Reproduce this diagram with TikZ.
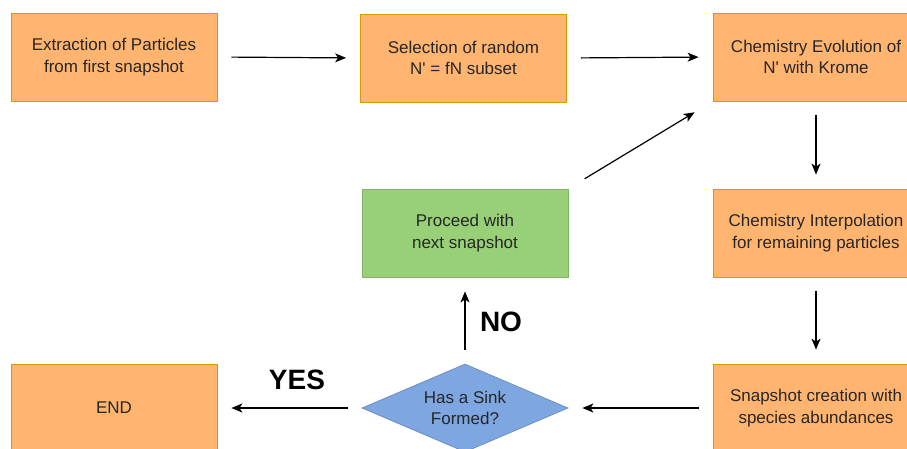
\documentclass[tikz,border=0pt]{standalone}
\usepackage{fontspec}
\setmainfont{Liberation Sans}
\usetikzlibrary{shapes.geometric,arrows.meta}
\definecolor{orfill}{HTML}{FFB570}
\definecolor{ordraw}{HTML}{D79B00}
\definecolor{grfill}{HTML}{97D077}
\definecolor{grdraw}{HTML}{82B366}
\definecolor{blfill}{HTML}{7EA6E0}
\definecolor{bldraw}{HTML}{6C8EBF}
\definecolor{txt}{HTML}{262626}
\begin{document}
\begin{tikzpicture}[x=1pt,y=-1pt,
  base/.style={minimum width=206pt,minimum height=88pt,inner sep=0pt,align=center,
    text=txt,font=\fontsize{17}{21.5}\selectfont,line width=0.8pt},
  orbox/.style={base,rectangle,fill=orfill,draw=ordraw},
  grbox/.style={base,rectangle,fill=grfill,draw=grdraw},
  decision/.style={base,diamond,aspect=2.34,fill=blfill,draw=bldraw},
  arr/.style={-{Stealth[length=11pt,width=9pt,inset=3pt]},line width=1.2pt,black,shorten <=14pt,shorten >=14pt},
  lbl/.style={font=\fontsize{28}{28}\selectfont\bfseries,text=black,inner sep=0pt}]
\useasboundingbox (0,0) rectangle (907,448);
\clip (0,0) rectangle (907,448);
\node[orbox] (b1) at (114,57) {Extraction of Particles\\from first snapshot};
\node[orbox] (b2) at (463.5,58) {Selection of random\\N\textquotesingle{} = fN subset};
\node[orbox] (b3) at (816,57) {Chemistry Evolution of\\N\textquotesingle{} with Krome};
\node[orbox] (b4) at (816,233) {Chemistry Interpolation\\for remaining particles};
\node[orbox] (b5) at (816,408) {Snapshot creation with\\species abundances};
\node[decision] (d) at (465,408) {Has a Sink\\Formed?};
\node[grbox] (g) at (465,233) {Proceed with\\next snapshot};
\node[orbox] (e) at (114,408) {END};
\draw[arr] (b1.east) -- (b2.west);
\draw[arr] (b2.east) -- (b3.west);
\draw[arr] (b3.south) -- (b4.north);
\draw[arr] (b4.south) -- (b5.north);
\draw[arr] (b5.west) -- (d.east);
\draw[arr] (d.west) -- (e.east);
\draw[arr] (d.north) -- (g.south);
\draw[arr,shorten <=19pt,shorten >=21pt] (g.north east) -- (b3.south west);
\node[lbl] (no) at (501,322) {NO};
\node[lbl] (yes) at (297,380) {YES};
\end{tikzpicture}
\end{document}
